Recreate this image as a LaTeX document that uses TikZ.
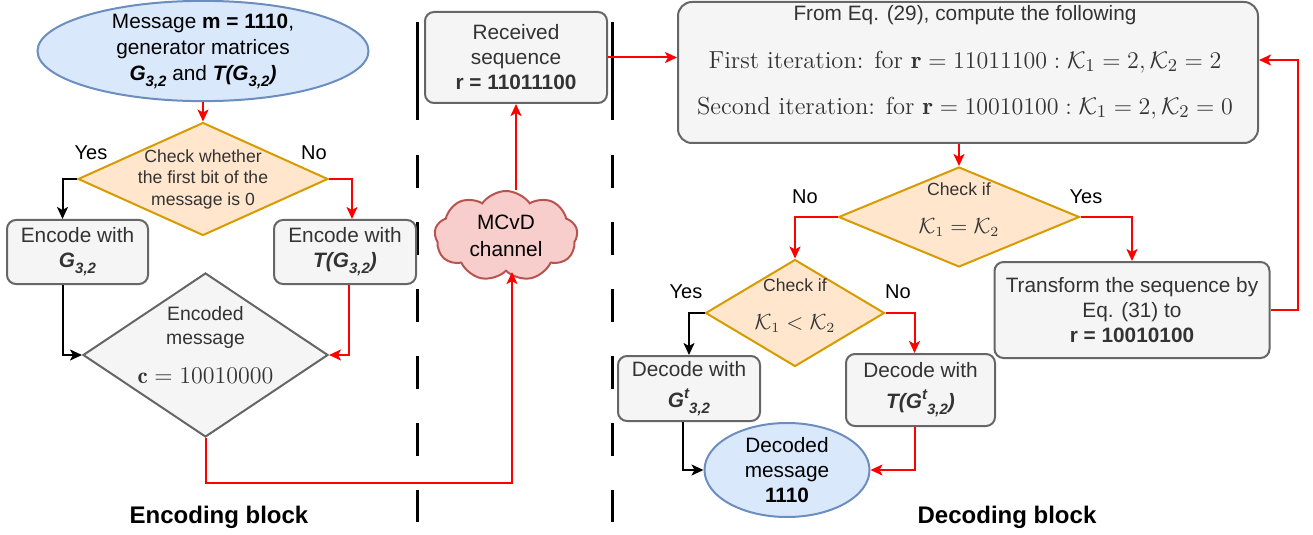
\documentclass[tikz,border=0pt]{standalone}
\usepackage{fontspec}
\setsansfont{Liberation Sans}
\usepackage{amsmath}
\usetikzlibrary{shapes.geometric, shapes.symbols, arrows.meta}

\definecolor{boxfill}{HTML}{F5F5F5}
\definecolor{boxline}{HTML}{666666}
\definecolor{msgfill}{HTML}{DAE8FC}
\definecolor{msgline}{HTML}{6C8EBF}
\definecolor{chkfill}{HTML}{FFE6CC}
\definecolor{chkline}{HTML}{D79B00}
\definecolor{chanfill}{HTML}{F8CECC}
\definecolor{chanline}{HTML}{B85450}
\definecolor{txtgray}{HTML}{333333}

\newcommand{\normsize}{\fontsize{10.4}{12.5}\selectfont}
\newcommand{\chksize}{\fontsize{8.8}{10.75}\selectfont}
\newcommand{\sbs}[1]{\raisebox{-0.55ex}{\fontsize{7.5}{8}\selectfont #1}}
\newcommand{\sps}[1]{\raisebox{0.85ex}{\fontsize{7.5}{8}\selectfont #1}}
\newcommand{\Gmat}{\textbf{\textit{G\sbs{3,2}}}}
\newcommand{\Gtmat}{\textbf{\textit{G\sps{t}\sbs{3,2}}}}

\begin{document}
\begin{tikzpicture}[x=0.5pt, y=-0.5pt, font=\sffamily\normsize,
    box/.style={draw=boxline, fill=boxfill, line width=1pt, rounded corners=4.5pt, text=txtgray, align=center, inner sep=0pt},
    msg/.style={ellipse, draw=msgline, fill=msgfill, line width=1pt, align=center, inner sep=-1pt},
    chk/.style={diamond, draw=chkline, fill=chkfill, line width=1pt},
    outdia/.style={diamond, draw=boxline, fill=boxfill, line width=1pt},
    inlbl/.style={text=txtgray, align=center, inner sep=0pt},
    ans/.style={font=\sffamily\fontsize{10}{12}\selectfont, inner sep=0pt},
    blocklbl/.style={font=\sffamily\bfseries\fontsize{12}{14}\selectfont, inner sep=0pt},
    redarr/.style={draw=red, line width=1pt, -{Stealth[length=6pt, width=5.5pt, inset=1.5pt]}},
    blkarr/.style={draw=black, line width=1pt, -{Stealth[length=6pt, width=5.5pt, inset=1.5pt]}},
    sepline/.style={line width=1.5pt}]
      \useasboundingbox (0,0) rectangle (1313,535);

      % Separators
      \draw[sepline] (417,22) -- (417,120);
      \draw[sepline, dash pattern=on 16.5pt off 17pt] (417,155) -- (417,522);
      \draw[sepline] (612,22) -- (612,120);
      \draw[sepline, dash pattern=on 16.5pt off 17pt] (612,155) -- (612,522);

      % Encoding block
      \node[msg, font=\sffamily\fontsize{10.4}{13}\selectfont, minimum width=165.5pt, minimum height=48.5pt] (msg) at (203,51)
        {Message \textbf{m = 1110},\\generator matrices\\\Gmat{} and \textbf{\textit{T(G\sbs{3,2})}}};
      \node[chk, minimum width=125pt, minimum height=56.5pt] (chk1) at (203,179) {};
      \node[inlbl, font=\sffamily\chksize] (chk1t) at (203,179) {Check whether\\the first bit of the\\message is 0};
      \node[box, minimum width=70.5pt, minimum height=32pt] (enc1) at (77.5,252) {Encode with\\\Gmat};
      \node[box, minimum width=71pt, minimum height=32pt] (enc2) at (345,252) {Encode with\\\textbf{\textit{T(G\sbs{3,2})}}};
      \node[outdia, minimum width=122.5pt, minimum height=82pt] (out) at (205.5,355) {};
      \node[inlbl, font=\sffamily\fontsize{9.7}{12}\selectfont] (outt) at (205.5,345)
        {Encoded\\message\\[7.5pt]\fontsize{11.5}{14}\selectfont$\mathbf{c}=10010000$};
      \node[ans] (yes1) at (91,153) {Yes};
      \node[ans] (no1) at (314,153) {No};
      \node[blocklbl] (encblk) at (219,517) {Encoding block};

      % Channel
      \node[cloud, cloud puffs=9, cloud puff arc=110, aspect=1.6, draw=chanline, fill=chanfill, line width=1pt,
        minimum width=71.5pt, minimum height=45pt, align=center, inner sep=0pt, font=\sffamily\fontsize{10.4}{13.5}\selectfont] (chan) at (506,236) {MCvD\\channel};
      \node[box, minimum width=91pt, minimum height=45.5pt] (recv) at (516,57.5) {Received\\sequence\\\textbf{r = 11011100}};

      % Decoding block
      \node[box, rounded corners=7pt, minimum width=290pt, minimum height=70.5pt] (comp) at (968,72.5) {};
      \node[inlbl] (compa) at (965,15) {From Eq. (29), compute the following};
      \node[inlbl, font=\rmfamily\fontsize{12.3}{14}\selectfont] (compb) at (965,62)
        {First iteration: for $\mathbf{r}=11011100:\mathcal{K}_1=2,\mathcal{K}_2=2$};
      \node[inlbl, font=\rmfamily\fontsize{12.3}{14}\selectfont] (compc) at (965,108)
        {Second iteration: for $\mathbf{r}=10010100:\mathcal{K}_1=2,\mathcal{K}_2=0$};
      \node[chk, minimum width=120.5pt, minimum height=50pt] (chk2) at (959,217) {};
      \node[inlbl, font=\sffamily\chksize] (chk2t) at (959,210) {Check if\\[8pt]\fontsize{10.5}{12.6}\selectfont$\mathcal{K}_1=\mathcal{K}_2$};
      \node[chk, minimum width=89.5pt, minimum height=53.5pt] (chk3) at (795,313) {};
      \node[inlbl, font=\sffamily\chksize] (chk3t) at (795,306) {Check if\\[8pt]\fontsize{10.5}{12.6}\selectfont$\mathcal{K}_1<\mathcal{K}_2$};
      \node[box, minimum width=137.5pt, minimum height=48pt] (trans) at (1132,310) {Transform the sequence by\\Eq. (31) to\\\textbf{r = 10010100}};
      \node[box, minimum width=71pt, minimum height=32.5pt] (dec1) at (689,388.5) {Decode with\\[3pt]\Gtmat};
      \node[box, minimum width=74.5pt, minimum height=36pt] (dec2) at (920.5,390) {Decode with\\[3pt]\textbf{\textit{T(G\sps{t}\sbs{3,2})}}};
      \node[msg, minimum width=82.5pt, minimum height=47pt] (dmsg) at (787,470) {Decoded\\message\\\textbf{1110}};
      \node[ans] (no2) at (805,197) {No};
      \node[ans] (yes2) at (1086,197) {Yes};
      \node[ans] (yes3) at (686,292) {Yes};
      \node[ans] (no3) at (898,292) {No};
      \node[blocklbl] (decblk) at (1007,517) {Decoding block};

      % Connectors
      \coordinate (low) at (0,483);
      \coordinate (loop) at (1298,60);
      \draw[redarr] (msg.south) -- (chk1.north);
      \draw[blkarr] (chk1.west) -| ([xshift=-7.5pt]enc1.north);
      \draw[redarr] (chk1.east) -| ([xshift=3.5pt]enc2.north);
      \draw[blkarr] ([xshift=-7.5pt]enc1.south) |- (out.west);
      \draw[redarr] ([xshift=2pt]enc2.south) |- (out.east);
      \draw[redarr] (out.south) -- (out.south |- low) -| ([xshift=3pt]chan.south);
      \draw[redarr] (chan.north -| recv.south) -- (recv.south);
      \draw[redarr] (recv.east) -- (recv.east -| comp.west);
      \draw[redarr] (comp.south -| chk2.north) -- (chk2.north);
      \draw[redarr] (chk2.west) -| (chk3.north);
      \draw[redarr] (chk2.east) -| (trans.north);
      \draw[redarr] (trans.east) -| (loop) -- (loop -| comp.east);
      \draw[blkarr] (chk3.west) -| (dec1.north);
      \draw[redarr] (chk3.east) -| ([xshift=-3pt]dec2.north);
      \draw[blkarr] ([xshift=-3pt]dec1.south) |- (dmsg.west);
      \draw[redarr] ([xshift=-3pt]dec2.south) |- (dmsg.east);
\end{tikzpicture}
\end{document}
